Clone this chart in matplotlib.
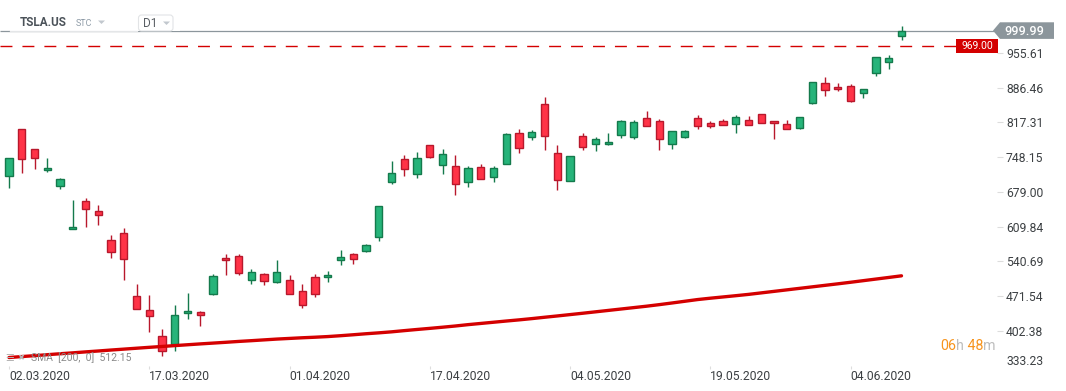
import matplotlib
matplotlib.use("Agg")
import matplotlib.pyplot as plt
from matplotlib.patches import Polygon, Rectangle, FancyBboxPatch
import numpy as np

# ---------------- data ----------------
tick_dates = ["02.03.2020", "17.03.2020", "01.04.2020", "17.04.2020",
              "04.05.2020", "19.05.2020", "04.06.2020"]
tick_idx = [0, 11, 22, 33, 44, 55, 66]

opens = [710.0, 804.8, 765.3, 721.9, 690.3, 604.5, 660.6, 640.9, 583.6, 597.4,
         472.9, 443.3, 391.9, 376.1, 437.4, 439.4, 476.9, 548.0, 552.5, 504.5,
         515.0, 500.6, 504.5, 482.8, 510.4, 510.4, 544.0, 555.9, 561.8, 589.5,
         698.2, 743.6, 715.1, 773.2, 732.3, 729.8, 699.3, 727.8, 709.2, 733.7,
         797.0, 789.0, 854.3, 755.5, 700.1, 791.0, 775.2, 775.2, 793.0, 789.0,
         826.6, 820.7, 775.2, 789.0, 826.6, 816.7, 820.7, 814.7, 822.6, 834.5,
         820.7, 814.7, 806.8, 856.2, 895.7, 887.8, 889.8, 876.0, 915.5, 937.2,
         988.6]
highs = [745.6, 804.8, 765.3, 746.2, 706.7, 663.2, 666.5, 652.7, 594.0, 607.9,
         495.2, 473.5, 406.3, 453.7, 477.5, 441.9, 515.0, 556.5, 556.5, 524.9,
         517.0, 542.7, 514.4, 495.2, 516.4, 520.9, 564.4, 557.9, 576.2, 650.7,
         740.2, 752.1, 758.0, 773.2, 763.9, 752.1, 730.4, 734.3, 730.4, 797.0,
         803.5, 801.5, 868.7, 771.9, 751.5, 797.0, 789.0, 795.6, 822.6, 822.6,
         840.4, 824.6, 800.9, 802.9, 832.5, 820.7, 824.6, 831.1, 830.5, 834.5,
         820.7, 822.6, 828.6, 897.7, 907.6, 895.7, 893.8, 883.9, 947.1, 951.6,
         1009.0]
lows = [687.5, 717.1, 725.0, 719.1, 685.5, 604.5, 608.5, 613.8, 546.6, 503.1,
        445.3, 399.8, 353.6, 362.3, 426.7, 412.3, 473.5, 513.0, 513.0, 495.2,
        493.3, 497.8, 475.0, 448.4, 470.2, 499.8, 533.4, 535.4, 559.1, 580.8,
        694.2, 711.2, 707.2, 746.7, 714.0, 673.7, 689.5, 704.1, 699.3, 733.7,
        756.6, 782.3, 762.6, 683.5, 700.1, 762.6, 760.6, 773.2, 787.1, 784.3,
        810.8, 762.6, 764.6, 787.1, 804.9, 806.8, 812.8, 797.0, 812.8, 816.7,
        784.3, 804.9, 804.9, 854.2, 869.3, 879.1, 858.2, 866.1, 909.6, 923.4,
        981.3]
closes = [745.6, 743.6, 747.5, 725.8, 704.7, 609.8, 644.8, 632.2, 559.1, 546.0,
          445.3, 431.4, 362.3, 433.4, 441.3, 433.4, 511.0, 544.0, 517.6, 520.3,
          501.8, 520.3, 476.9, 453.2, 476.9, 514.4, 549.9, 546.0, 573.7, 650.7,
          715.9, 725.0, 747.5, 748.7, 754.1, 694.2, 725.8, 704.1, 725.8, 795.0,
          767.3, 798.9, 791.0, 702.1, 751.5, 769.3, 785.1, 779.2, 820.7, 818.7,
          810.8, 785.1, 800.9, 800.9, 810.8, 810.8, 812.8, 828.6, 812.8, 816.7,
          816.7, 804.9, 828.6, 897.7, 881.1, 883.9, 860.2, 883.9, 947.1, 945.1,
          999.99]
sma200 = [349.6, 351.5, 353.3, 355.2, 357.1, 358.9, 360.8, 362.6, 364.5, 366.3,
          368.1, 369.9, 371.6, 373.3, 375.0, 376.7, 378.3, 379.9, 381.6, 383.1,
          384.7, 386.3, 387.6, 388.9, 390.0, 391.3, 393.0, 394.9, 396.9, 398.7,
          400.7, 403.1, 405.4, 407.6, 409.9, 412.3, 415.0, 417.4, 419.8, 422.2,
          424.5, 427.0, 429.7, 432.3, 435.0, 437.7, 440.5, 443.3, 446.1, 448.9,
          451.7, 454.8, 458.1, 461.5, 464.9, 467.6, 470.1, 472.6, 475.2, 478.2,
          481.2, 484.2, 487.2, 490.2, 493.2, 496.2, 499.3, 502.5, 505.7, 508.9,
          512.15]

y_ticks = [955.61, 886.46, 817.31, 748.15, 679.00, 609.84, 540.69, 471.54, 402.38]
y_bottom_label = 333.23
last_price = 999.99
alert_price = 969.00
symbol = "TSLA.US"
symbol_type = "STC"
interval = "D1"
sma_label = "SMA  [200,  0]  512.15"
timer_parts = [("06", "#f7941d"), ("h", "#bdbdbd"), (" 48", "#f7941d"), ("m", "#bdbdbd")]

# ---------------- style ----------------
plt.rcParams['font.family'] = ['Roboto', 'DejaVu Sans']
G_FILL, G_EDGE = "#26b47a", "#147a4c"
R_FILL, R_EDGE = "#ff3347", "#b8182c"
SMA_C = "#d40000"
TXT = "#3c4043"

W, H = 1066, 391
fig = plt.figure(figsize=(W / 100, H / 100), dpi=100)
fig.patch.set_facecolor("white")

AX_R, AX_B = 997, 366
ax = fig.add_axes([0, (H - AX_B) / H, AX_R / W, AX_B / H])
step, x0 = 12.75, 9.0
ppx = 69.15 / 34.76
ax.set_xlim(-x0 / step, (AX_R - x0) / step)
ax.set_ylim(955.61 - (AX_B - 52.9) * ppx, 955.61 + 52.9 * ppx)
for s in ax.spines.values():
    s.set_visible(False)


def px2x(px):
    return (px - x0) / step


o = np.array(opens); h = np.array(highs); l = np.array(lows); c = np.array(closes)
idx = np.arange(len(o))
up = c >= o
lo_b = np.minimum(o, c)
hgt = np.maximum(np.abs(c - o), 2.0 * ppx)
bw = 7.4 / step

ax.vlines(idx[up], l[up], h[up], color=G_EDGE, lw=1.0, zorder=2)
ax.vlines(idx[~up], l[~up], h[~up], color=R_EDGE, lw=1.0, zorder=2)
ax.bar(idx[up], hgt[up], bottom=lo_b[up], width=bw, color=G_FILL,
       edgecolor=G_EDGE, linewidth=1.0, zorder=3)
ax.bar(idx[~up], hgt[~up], bottom=lo_b[~up], width=bw, color=R_FILL,
       edgecolor=R_EDGE, linewidth=1.0, zorder=3)

ax.plot(idx, sma200, color=SMA_C, lw=2.4, zorder=4, solid_capstyle="round")

# price line and alert line
ax.hlines(last_price, px2x(0), px2x(995), color="#8c969c", lw=0.9, zorder=1)
ax.hlines(alert_price, px2x(0), px2x(956), colors=SMA_C, lw=1.0,
          linestyles=[(0, (8.6, 7.2))], zorder=1)

# axes ticks
ax.yaxis.tick_right()
ax.set_yticks(y_ticks, [f"{v:.2f}" for v in y_ticks])
ax.tick_params(axis="y", length=4.3, width=0.8, color="#dddddd", pad=2.2,
               labelsize=8.7, labelcolor=TXT)
ax.set_xticks(tick_idx, tick_dates)
ax.tick_params(axis="x", length=2.5, width=0.8, color="#dddddd", pad=0.5,
               labelsize=8.7, labelcolor=TXT)
for lab in ax.get_xticklabels():
    lab.set_ha("left")
ax.annotate(f"{y_bottom_label:.2f}", xy=(1, y_bottom_label),
            xycoords=("axes fraction", "data"), xytext=(6.5, 3.1),
            textcoords="offset points", ha="left", va="center",
            fontsize=8.7, color=TXT, annotation_clip=False)

# ---------------- overlay in pixel coordinates ----------------
ov = fig.add_axes([0, 0, 1, 1], zorder=10)
ov.set_xlim(0, W)
ov.set_ylim(H, 0)
ov.axis("off")
ov.patch.set_alpha(0)


def price_py(v):
    return H - ax.transData.transform((0, v))[1]


# last price tag
py = price_py(last_price)
ov.add_patch(Polygon([(993, py), (1000, py - 8.3), (1054, py - 8.3),
                      (1054, py + 8.3), (1000, py + 8.3)],
                     closed=True, facecolor="#8c969c", edgecolor="none"))
ov.text(1024, py + 0.5, f"{last_price:.2f}", color="white", fontsize=9.2,
        ha="center", va="center", fontweight="medium")

# alert tag
pa = price_py(alert_price)
ov.add_patch(Rectangle((956, pa - 6.7), 42, 13.4, facecolor="#d40000",
                       edgecolor="none"))
ov.text(977, pa + 0.3, f"{alert_price:.2f}", color="white", fontsize=7.5,
        ha="center", va="center")

# header
ov.add_patch(Rectangle((10, 6), 170, py - 6, facecolor="white", edgecolor="none"))
ov.plot([10, 137], [py, py], color="#e4e6e8", lw=0.9)
ov.text(20, 22.5, symbol, fontsize=8.5, fontweight="bold", color="#4b5259",
        ha="left", va="center")
ov.text(76, 24, symbol_type, fontsize=6.5, color="#8e9ba7", ha="left", va="center")
ov.add_patch(Polygon([(98, 20.5), (105, 20.5), (101.5, 24)], closed=True,
                     facecolor="#c2c8ce", edgecolor="none"))
ov.add_patch(FancyBboxPatch((138.5, 15), 34.5, 16,
                            boxstyle="round,pad=0,rounding_size=3",
                            facecolor="white", edgecolor="#e2e4e6", lw=0.8))
ov.text(143, 23.5, interval, fontsize=8.5, color="#5a5f64", ha="left", va="center")
ov.add_patch(Polygon([(163, 21.5), (170, 21.5), (166.5, 25)], closed=True,
                     facecolor="#c2c8ce", edgecolor="none"))

# SMA legend
ov.text(5, 358, "\u2630", fontsize=7, color="#b4b4b4", ha="left", va="center",
        family=["DejaVu Sans"])
ov.text(17, 357.5, "\u2716", fontsize=6, color="#b4b4b4", ha="left", va="center",
        family=["DejaVu Sans"])
ov.text(31, 358, sma_label, fontsize=7.5, color="#8a8a8a", ha="left", va="center")

# timer
tx = 940
r = fig.canvas.get_renderer()
for txt, col in timer_parts:
    t = ov.text(tx, 346.5, txt, fontsize=10.3, color=col, ha="left", va="center")
    bb = t.get_window_extent(renderer=r)
    tx += bb.width

fig.savefig("out.png", dpi=100, facecolor="white")
